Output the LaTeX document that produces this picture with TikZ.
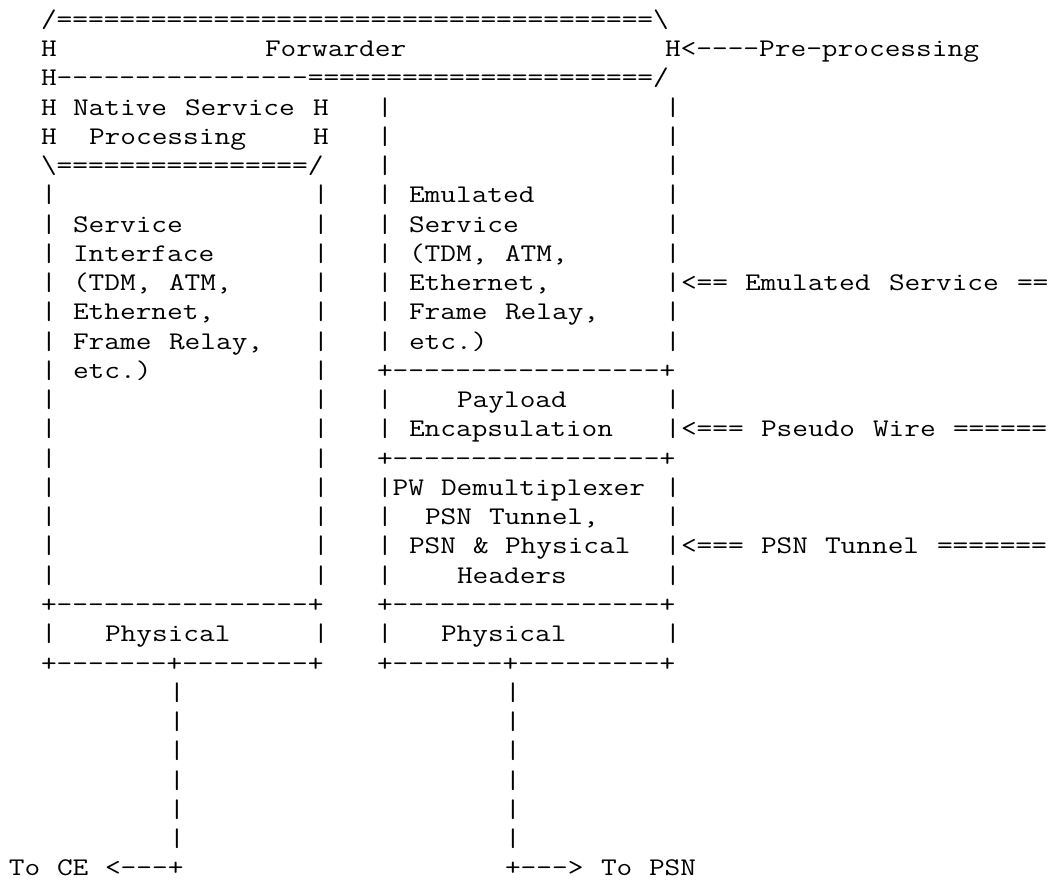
\documentclass[tikz,border=0pt]{standalone}
\usepackage{fontspec}
\usepackage{graphicx}
\frenchspacing
\newcommand\asciifont{\ttfamily\fontsize{25.4}{29.3}\selectfont}
\tikzset{
  asc/.style={anchor=base west, inner sep=0pt, outer sep=0pt, font=\asciifont, text=black},
}
% \A{name}{column}{row}{text}: one run of characters at a fixed column and row
\newcommand\A[4]{\node[asc] (#1) at ({16*#2-7},{851.5-29.25*#3}) {\scalebox{1.2}[1]{#4}};}
\begin{document}
\begin{tikzpicture}[x=1pt,y=1pt]
\useasboundingbox[fill=white] (0,0) rectangle (1052,879);
% top Forwarder block
\A{r0}{3}{0}{/======================================\textbackslash}
\A{r1a}{3}{1}{H}
\A{fwd}{17}{1}{Forwarder}
\A{r1c}{42}{1}{H<{-}{-}{-}{-}Pre-processing}
\A{r2}{3}{2}{H{-}{-}{-}{-}{-}{-}{-}{-}{-}{-}{-}{-}{-}{-}{-}{-}======================/}
% Native Service Processing block
\A{r3a}{3}{3}{H}
\A{nsp1}{5}{3}{Native}
\A{nsp2}{12}{3}{Service}
\A{r3d}{20}{3}{H}
\A{r4a}{3}{4}{H}
\A{nsp3}{6}{4}{Processing}
\A{r4d}{20}{4}{H}
\A{r5}{3}{5}{\textbackslash================/}
% vertical bars
\foreach \r in {6,...,19,21} {
  \A{bl\r}{3}{\r}{|}
  \A{br\r}{20}{\r}{|}
}
\foreach \r in {3,...,11,13,14,17,18,19,21} {
  \A{ml\r}{24}{\r}{|}
}
\foreach \r in {3,...,11,13,14,16,17,18,19,21} {
  \A{mr\r}{42}{\r}{|}
}
\foreach \r in {23,...,28} {
  \A{vl\r}{11}{\r}{|}
  \A{vr\r}{32}{\r}{|}
}
% left box text
\A{si1}{5}{7}{Service}
\A{si2}{5}{8}{Interface}
\A{si3a}{5}{9}{(TDM,}
\A{si3b}{11}{9}{ATM,}
\A{si4}{5}{10}{Ethernet,}
\A{si5a}{5}{11}{Frame}
\A{si5b}{11}{11}{Relay,}
\A{si6}{5}{12}{etc.)}
% middle box text
\A{es1}{26}{6}{Emulated}
\A{es2}{26}{7}{Service}
\A{es3a}{26}{8}{(TDM,}
\A{es3b}{32}{8}{ATM,}
\A{es4}{26}{9}{Ethernet,}
\A{es5a}{26}{10}{Frame}
\A{es5b}{32}{10}{Relay,}
\A{es6}{26}{11}{etc.)}
\A{h12}{24}{12}{+{-}{-}{-}{-}{-}{-}{-}{-}{-}{-}{-}{-}{-}{-}{-}{-}{-}+}
\A{pe1}{29}{13}{Payload}
\A{pe2}{26}{14}{Encapsulation}
\A{h15}{24}{15}{+{-}{-}{-}{-}{-}{-}{-}{-}{-}{-}{-}{-}{-}{-}{-}{-}{-}+}
\A{pw1a}{24}{16}{|PW}
\A{pw1b}{28}{16}{Demultiplexer}
\A{pw2a}{27}{17}{PSN}
\A{pw2b}{31}{17}{Tunnel,}
\A{pw3a}{26}{18}{PSN}
\A{pw3b}{30}{18}{\&}
\A{pw3c}{32}{18}{Physical}
\A{pw4}{29}{19}{Headers}
% physical boxes
\A{h20l}{3}{20}{+{-}{-}{-}{-}{-}{-}{-}{-}{-}{-}{-}{-}{-}{-}{-}{-}+}
\A{h20r}{24}{20}{+{-}{-}{-}{-}{-}{-}{-}{-}{-}{-}{-}{-}{-}{-}{-}{-}{-}+}
\A{phl}{7}{21}{Physical}
\A{phr}{28}{21}{Physical}
\A{h22l}{3}{22}{+{-}{-}{-}{-}{-}{-}{-}+{-}{-}{-}{-}{-}{-}{-}{-}+}
\A{h22r}{24}{22}{+{-}{-}{-}{-}{-}{-}{-}+{-}{-}{-}{-}{-}{-}{-}{-}{-}+}
% right labels
\A{la1}{43}{9}{<==}
\A{la2}{47}{9}{Emulated}
\A{la3}{56}{9}{Service}
\A{la4}{64}{9}{==}
\A{lb1}{43}{14}{<===}
\A{lb2}{48}{14}{Pseudo}
\A{lb3}{55}{14}{Wire}
\A{lb4}{60}{14}{======}
\A{lc1}{43}{18}{<===}
\A{lc2}{48}{18}{PSN}
\A{lc3}{52}{18}{Tunnel}
\A{lc4}{59}{18}{=======}
% bottom
\A{ce1}{1}{29}{To}
\A{ce2}{4}{29}{CE}
\A{ce3}{7}{29}{<{-}{-}{-}+}
\A{psn1}{32}{29}{+{-}{-}{-}>}
\A{psn2}{38}{29}{To}
\A{psn3}{41}{29}{PSN}
\end{tikzpicture}
\end{document}
